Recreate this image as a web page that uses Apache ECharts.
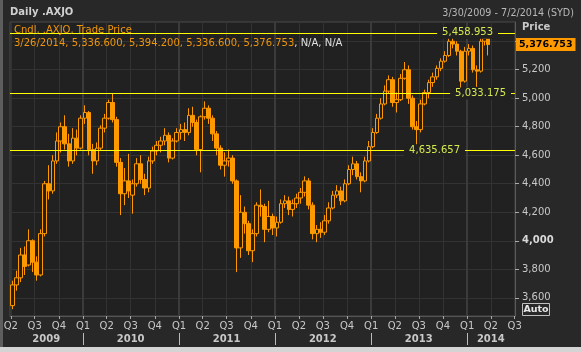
<!DOCTYPE html>
<html>
<head>
<meta charset="utf-8">
<script src="https://cdn.jsdelivr.net/npm/echarts@6/dist/echarts.min.js"></script>
<style>
  html, body { margin: 0; padding: 0; background: #282828; }
  #chart { width: 581px; height: 352px; }
</style>
</head>
<body>
<div id="chart"></div>
<script>
// half-month candles (centre date of each period)
const dates = [
  '2009-04-08','2009-04-23','2009-05-08','2009-05-23','2009-06-08','2009-06-23','2009-07-08','2009-07-23',
  '2009-08-08','2009-08-23','2009-09-08','2009-09-23','2009-10-08','2009-10-23','2009-11-08','2009-11-23',
  '2009-12-08','2009-12-23','2010-01-08','2010-01-23','2010-02-08','2010-02-23','2010-03-08','2010-03-23',
  '2010-04-08','2010-04-23','2010-05-08','2010-05-23','2010-06-08','2010-06-23','2010-07-08','2010-07-23',
  '2010-08-08','2010-08-23','2010-09-08','2010-09-23','2010-10-08','2010-10-23','2010-11-08','2010-11-23',
  '2010-12-08','2010-12-23','2011-01-08','2011-01-23','2011-02-08','2011-02-23','2011-03-08','2011-03-23',
  '2011-04-08','2011-04-23','2011-05-08','2011-05-23','2011-06-08','2011-06-23','2011-07-08','2011-07-23',
  '2011-08-08','2011-08-23','2011-09-08','2011-09-23','2011-10-08','2011-10-23','2011-11-08','2011-11-23',
  '2011-12-08','2011-12-23','2012-01-08','2012-01-23','2012-02-08','2012-02-23','2012-03-08','2012-03-23',
  '2012-04-08','2012-04-23','2012-05-08','2012-05-23','2012-06-08','2012-06-23','2012-07-08','2012-07-23',
  '2012-08-08','2012-08-23','2012-09-08','2012-09-23','2012-10-08','2012-10-23','2012-11-08','2012-11-23',
  '2012-12-08','2012-12-23','2013-01-08','2013-01-23','2013-02-08','2013-02-23','2013-03-08','2013-03-23',
  '2013-04-08','2013-04-23','2013-05-08','2013-05-23','2013-06-08','2013-06-23','2013-07-08','2013-07-23',
  '2013-08-08','2013-08-23','2013-09-08','2013-09-23','2013-10-08','2013-10-23','2013-11-08','2013-11-23',
  '2013-12-08','2013-12-23','2014-01-08','2014-01-23','2014-02-08','2014-02-23','2014-03-08','2014-03-21'
];
const opens = [
  3545,3690,3740,3900,3830,4000,3850,3760, 4050,4400,4350,4560,4700,4800,4680,4560,
  4720,4650,4860,4900,4640,4560,4650,4790, 4860,4970,4850,4550,4330,4420,4320,4400,
  4540,4430,4370,4560,4630,4670,4700,4740, 4580,4700,4760,4780,4760,4880,4830,4640,
  4870,4930,4860,4750,4650,4530,4560,4580, 4420,3950,4200,4120,3930,4050,4250,4240,
  4080,4170,4090,4130,4260,4280,4220,4260, 4300,4340,4420,4250,4050,4080,4060,4140,
  4230,4320,4350,4280,4400,4500,4540,4450, 4420,4560,4660,4760,4860,4960,5050,5130,
  4970,4990,5140,5200,5000,4800,4780,4960, 5040,5110,5150,5210,5260,5300,5400,5380,
  5330,5120,5330,5350,5200,5190,5400,5420
];
const closes = [
  3690,3740,3900,3820,4000,3850,3760,4050, 4400,4350,4560,4700,4800,4680,4560,4720,
  4650,4860,4900,4640,4560,4650,4790,4860, 4970,4850,4550,4330,4420,4350,4400,4540,
  4430,4370,4560,4630,4670,4700,4740,4580, 4700,4760,4780,4760,4880,4830,4640,4870,
  4930,4860,4750,4650,4530,4560,4580,4420, 3950,4200,4120,3930,4050,4250,4240,4080,
  4170,4090,4130,4260,4280,4220,4260,4300, 4340,4420,4250,4050,4080,4060,4140,4230,
  4320,4350,4280,4400,4500,4540,4450,4420, 4560,4660,4760,4860,4960,5050,5130,4970,
  4990,5140,5200,5000,4800,4780,4960,5040, 5110,5150,5210,5260,5300,5400,5380,5330,
  5120,5330,5350,5200,5190,5400,5420,5376.753
];
const lows = [
  3520,3650,3710,3760,3820,3780,3720,3750, 4030,4290,4330,4540,4620,4640,4520,4540,
  4600,4640,4820,4600,4470,4530,4630,4760, 4850,4830,4520,4180,4250,4300,4190,4380,
  4400,4320,4340,4540,4600,4620,4670,4550, 4570,4690,4710,4700,4740,4800,4600,4480,
  4850,4820,4700,4600,4500,4450,4520,4400, 3780,3880,4050,3900,3850,4030,4170,3990,
  4060,4040,4030,4120,4230,4180,4170,4230, 4260,4310,4220,4010,3990,4020,4040,4120,
  4220,4300,4250,4270,4390,4460,4430,4340, 4410,4550,4650,4750,4850,4950,5030,4940,
  4900,4980,5130,4960,4780,4637,4760,4950, 5000,5080,5130,5190,5250,5290,5350,5300,
  5070,5110,5300,5180,5080,5180,5370,5300
];
const highs = [
  3720,3790,3950,3960,4080,4010,3890,4080, 4420,4530,4600,4760,4830,4880,4750,4790,
  4780,4880,4950,4910,4680,4690,4810,4890, 4990,5030,4870,4580,4510,4610,4430,4580,
  4600,4470,4590,4660,4700,4730,4790,4760, 4720,4790,4820,4830,4930,4940,4850,4880,
  4978,4950,4880,4770,4670,4620,4640,4600, 4430,4320,4240,4140,4080,4270,4360,4260,
  4280,4190,4170,4290,4320,4310,4290,4330, 4370,4452,4440,4270,4110,4130,4180,4270,
  4350,4390,4380,4430,4530,4590,4560,4480, 4590,4700,4790,4890,5000,5090,5160,5150,
  5040,5170,5254,5230,5020,4840,4990,5060, 5130,5180,5230,5280,5330,5420,5455,5400,
  5340,5360,5380,5370,5230,5420,5445,5430
];
// horizontal reference lines drawn on the chart
const refLevels = [5458.953, 5033.175, 4635.657];
// axis ticks and labels
const quarterTicks = [
  '2009-04-01','2009-07-01','2009-10-01','2010-01-01','2010-04-01','2010-07-01','2010-10-01',
  '2011-01-01','2011-04-01','2011-07-01','2011-10-01','2012-01-01','2012-04-01','2012-07-01','2012-10-01',
  '2013-01-01','2013-04-01','2013-07-01','2013-10-01','2014-01-01','2014-04-01','2014-07-01'
];
const yearTicks = ['2010-01-01','2011-01-01','2012-01-01','2013-01-01','2014-01-01'];
const yearLabelDates = ['2009-08-14','2010-07-01','2011-07-01','2012-07-01','2013-07-01','2014-04-01'];
const priceTicks = [3600, 3800, 4000, 4200, 4400, 4600, 4800, 5000, 5200, 5400];
const priceLabels = [3600, 3800, 4000, 4200, 4400, 4600, 4800, 5000, 5200];
const lastBar = '3/26/2014, 5,336.600, 5,394.200, 5,336.600, 5,376.753';

function t(s) {
  const p = s.split('-').map(Number);
  return new Date(p[0], p[1] - 1, p[2]).getTime();
}
function fmt(v, d) {
  return v.toLocaleString('en-US', {minimumFractionDigits: d || 0, maximumFractionDigits: d || 0});
}

const FONT = 'DejaVu Sans';
const ORANGE = '#ff9900';
const YELLOW = '#ffff00';
const xMin = t('2009-03-29'), xMax = t('2014-07-02');
const data = dates.map((d, i) => [t(d), opens[i], closes[i], lows[i], highs[i]]);
const lastClose = closes[closes.length - 1];
const labelInset = [17, 4, 50];

const chart = echarts.init(document.getElementById('chart'), null, {width: 581, height: 352});
chart.setOption({
  animation: false,
  backgroundColor: '#282828',
  grid: {left: 10, right: 66, top: 22, bottom: 36, show: true, backgroundColor: '#212121', borderColor: '#4a4a4a', borderWidth: 1},
  xAxis: [{
    type: 'value', min: xMin, max: xMax,
    axisLine: {show: true, lineStyle: {color: '#555'}},
    axisTick: {show: true, length: 3, customValues: quarterTicks.map(t), lineStyle: {color: '#aaa'}},
    axisLabel: {
      customValues: quarterTicks.map(t), margin: 5, color: '#c8c8c8', fontSize: 10, fontFamily: FONT,
      formatter: v => 'Q' + (Math.floor(new Date(v).getMonth() / 3) + 1)
    },
    splitLine: {show: true, lineStyle: {color: '#333', width: 1}}
  }, {
    type: 'value', min: xMin, max: xMax, position: 'bottom', offset: 17,
    axisLine: {show: false},
    axisTick: {show: true, length: 12, customValues: yearTicks.map(t), lineStyle: {color: '#bbb'}},
    axisLabel: {
      customValues: yearLabelDates.map(t), margin: 1, color: '#c8c8c8', fontSize: 10, fontWeight: 'bold', fontFamily: FONT,
      formatter: v => String(new Date(v).getFullYear())
    },
    splitLine: {show: true, lineStyle: {color: '#3b3b3b', width: 2}}
  }],
  yAxis: {
    type: 'value', position: 'right', min: 3472, max: 5535, scale: true,
    axisLine: {show: true, lineStyle: {color: '#5a5a5a'}},
    axisTick: {show: true, length: 4, customValues: priceTicks, lineStyle: {color: '#aaa'}},
    axisLabel: {
      customValues: priceLabels, margin: 7, align: 'left', color: '#c8c8c8', fontSize: 10, fontFamily: FONT,
      formatter: v => v === 4000 ? '{b|4,000}' : fmt(v),
      rich: {b: {fontWeight: 'bold', color: '#d8d8d8', fontSize: 10, fontFamily: FONT}}
    },
    splitLine: {show: true, lineStyle: {color: '#333', width: 1}}
  },
  series: [{
    type: 'candlestick',
    data: data,
    encode: {x: 0, y: [1, 2, 3, 4]},
    barWidth: 4,
    clip: false,
    itemStyle: {color: '#212121', color0: ORANGE, borderColor: ORANGE, borderColor0: ORANGE, borderWidth: 1},
    markLine: {
      symbol: ['none', 'none'], silent: true, animation: false,
      lineStyle: {color: YELLOW, width: 1, type: 'solid', opacity: 1},
      data: refLevels.map((v, i) => ({
        yAxis: v,
        lineStyle: {color: YELLOW, width: 1, type: 'solid'},
        label: {
          show: true, position: 'insideEnd', distance: [labelInset[i], 0],
          formatter: fmt(v, 3), color: '#d6ea4e', fontSize: 10, fontFamily: FONT,
          backgroundColor: '#212121', padding: [1, 5]
        }
      })).concat([{
        yAxis: lastClose,
        lineStyle: {color: 'rgba(0,0,0,0)', width: 0},
        label: {
          show: true, position: 'end', distance: 1, formatter: fmt(lastClose, 3),
          color: '#000', fontSize: 9.5, fontWeight: 'bold', fontFamily: FONT,
          backgroundColor: ORANGE, padding: [2, 3, 1, 3]
        }
      }])
    }
  }],
  graphic: [
    {type: 'rect', shape: {x: 0, y: 0, width: 3, height: 352}, style: {fill: '#5e5e5e'}, silent: true},
    {type: 'rect', shape: {x: 0, y: 347, width: 581, height: 5}, style: {fill: '#d4d4d4'}, silent: true},
    {type: 'text', x: 10, y: 12, style: {text: 'Daily .AXJO', fill: '#d0d0d0', font: 'bold 10px "DejaVu Sans"', verticalAlign: 'middle'}},
    {type: 'text', x: 574, y: 13, style: {text: '3/30/2009 - 7/2/2014 (SYD)', fill: '#b8b8b8', font: '9.6px "DejaVu Sans"', align: 'right', verticalAlign: 'middle'}},
    {type: 'text', x: 14, y: 30, z: 10, style: {text: 'Cndl, .AXJO, Trade Price', fill: '#f0960a', font: '10px "DejaVu Sans"', verticalAlign: 'middle'}},
    {type: 'text', x: 14, y: 43.5, z: 10, style: {
      text: '{o|' + lastBar + '}{w|, N/A, N/A}', font: '10px "DejaVu Sans"', verticalAlign: 'middle',
      rich: {o: {fill: '#f0960a', font: '10px "DejaVu Sans"'}, w: {fill: '#e0e0e0', font: '10px "DejaVu Sans"'}}
    }},
    {type: 'text', x: 522, y: 27.5, style: {text: 'Price', fill: '#c8c8c8', font: 'bold 10px "DejaVu Sans"', verticalAlign: 'middle'}},
    {type: 'rect', shape: {x: 522.5, y: 303.5, width: 27, height: 12}, style: {fill: 'none', stroke: '#c0c0c0', lineWidth: 1}},
    {type: 'text', x: 536, y: 309.8, style: {text: 'Auto', fill: '#e6e6e6', font: 'bold 9.5px "DejaVu Sans"', align: 'center', verticalAlign: 'middle'}}
  ]
});
</script>
</body>
</html>
